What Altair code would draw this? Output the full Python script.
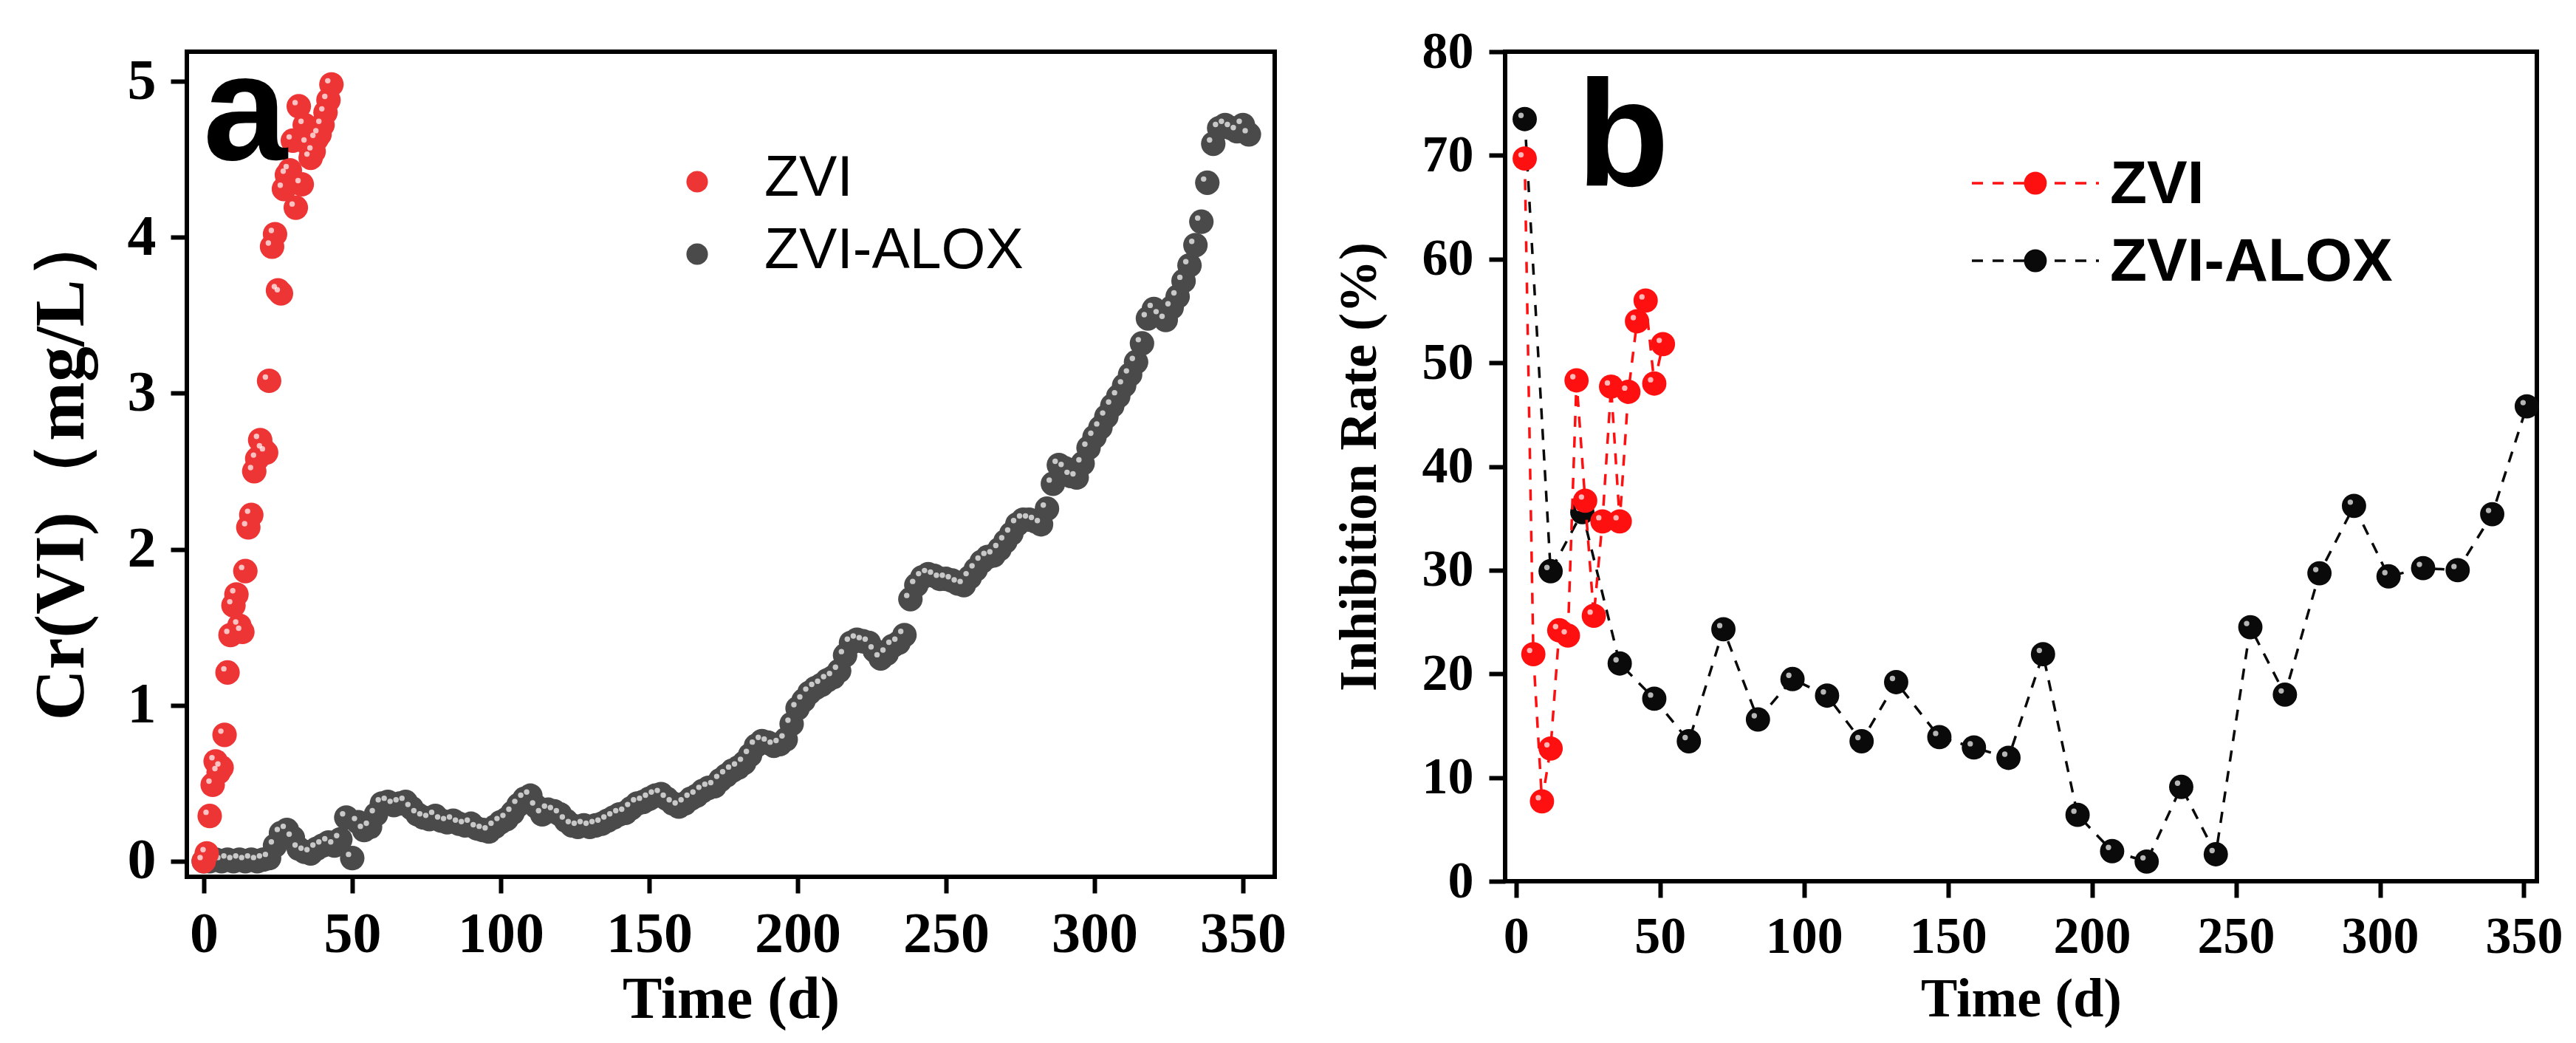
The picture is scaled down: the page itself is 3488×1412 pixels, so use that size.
import altair as alt
import pandas as pd

# ---- panel a: effluent Cr(VI), mg/L ----
# ZVI sampled daily, day 0..43
zvi_day = list(range(0, 44))
zvi_cr = [0.00, 0.05, 0.29, 0.49, 0.64, 0.57, 0.60, 0.81, 1.21, 1.45,
          1.64, 1.71, 1.51, 1.47, 1.86, 2.14, 2.22, 2.50, 2.58, 2.70,
          2.64, 2.62, 3.08, 3.94, 4.02, 3.66, 3.64, 4.31, 4.40, 4.43,
          4.62, 4.19, 4.84, 4.34, 4.72, 4.60, 4.51, 4.55, 4.63, 4.66,
          4.72, 4.80, 4.88, 4.98]

alox_day = list(range(0, 353, 2))
alox_cr = [0.00, 0.00, 0.01, 0.00, 0.01, 0.00, 0.01, 0.00, 0.01, 0.00,
           0.01, 0.02, 0.10, 0.18, 0.20, 0.15, 0.08, 0.06, 0.05, 0.08,
           0.10, 0.12, 0.10, 0.14, 0.28, 0.02, 0.25, 0.20, 0.22, 0.30,
           0.37, 0.38, 0.36, 0.37, 0.38, 0.34, 0.30, 0.28, 0.27, 0.29,
           0.26, 0.25, 0.26, 0.24, 0.23, 0.24, 0.21, 0.20, 0.19, 0.22,
           0.25, 0.27, 0.31, 0.36, 0.40, 0.42, 0.35, 0.30, 0.33, 0.32,
           0.30, 0.26, 0.23, 0.22, 0.23, 0.22, 0.23, 0.24, 0.26, 0.28,
           0.30, 0.31, 0.34, 0.37, 0.38, 0.40, 0.42, 0.43, 0.40, 0.37,
           0.35, 0.37, 0.40, 0.42, 0.45, 0.47, 0.48, 0.52, 0.55, 0.58,
           0.60, 0.63, 0.68, 0.74, 0.77, 0.76, 0.74, 0.75, 0.78, 0.88,
           0.98, 1.03, 1.08, 1.11, 1.13, 1.16, 1.18, 1.22, 1.32, 1.40,
           1.42, 1.41, 1.40, 1.35, 1.30, 1.33, 1.38, 1.40, 1.45, 1.68,
           1.77, 1.82, 1.84, 1.83, 1.81, 1.81, 1.80, 1.78, 1.77, 1.82,
           1.87, 1.92, 1.95, 1.96, 2.00, 2.05, 2.10, 2.16, 2.19, 2.19,
           2.18, 2.16, 2.26, 2.42, 2.54, 2.52, 2.47, 2.46, 2.55, 2.65,
           2.72, 2.78, 2.85, 2.92, 2.98, 3.05, 3.12, 3.20, 3.32, 3.48,
           3.54, 3.50, 3.47, 3.55, 3.62, 3.72, 3.82, 3.95, 4.10, 4.35,
           4.60, 4.70, 4.72, 4.70, 4.68, 4.72, 4.66]

# ---- panel b: inhibition rate, % ----
zvi_b_day = [3, 6, 9, 12, 15, 18, 21, 24, 27, 30, 33, 36, 39, 42, 45, 48, 51]
zvi_b_rate = [69.7, 21.9, 7.7, 12.8, 24.2, 23.7, 48.3, 36.7, 25.6, 34.7,
              47.7, 34.7, 47.2, 54.0, 56.0, 48.0, 51.8]
alox_b_day = [3, 12, 23, 36, 48, 60, 72, 84, 96, 108, 120, 132, 147, 159, 171,
              183, 195, 207, 219, 231, 243, 255, 267, 279, 291, 303, 315, 327, 339, 351]
alox_b_rate = [73.5, 29.9, 35.6, 21.0, 17.6, 13.5, 24.3, 15.6, 19.5, 17.9,
               13.5, 19.2, 13.9, 12.9, 11.9, 21.9, 6.4, 2.9, 1.9, 9.1,
               2.6, 24.5, 18.0, 29.7, 36.2, 29.4, 30.2, 30.0, 35.4, 45.8]

series = ["ZVI", "ZVI-ALOX"]
time_ticks = [0, 50, 100, 150, 200, 250, 300, 350]

RED_A, GREY_A = "#ee3535", "#4a4a4a"
RED_B, BLACK_B = "#ff1010", "#0a0a0a"
SERIF = "Liberation Serif"
SANS = "Liberation Sans"


def spheres(df, x, y, color, size):
    # filled dot plus a small light speck to mimic the shaded ball markers
    body = alt.Chart(df).mark_circle(size=size, color=color, opacity=1).encode(x=x, y=y)
    shine = alt.Chart(df).mark_circle(size=size * 0.05, color="white", opacity=0.7,
                                      xOffset=-5, yOffset=-5).encode(x=x, y=y)
    return body + shine


one = pd.DataFrame({"k": [0]})

# ---------- panel a ----------
Wa, Ha = 1473, 1117
xa = alt.X("day:Q", scale=alt.Scale(domain=[-5.7, 360.7], nice=False, zero=False),
           axis=alt.Axis(values=time_ticks, title="Time (d)", labelFontSize=78, titleFontSize=80,
                         labelPadding=17, titlePadding=10, labelFlush=False))
ya = alt.Y("val:Q", scale=alt.Scale(domain=[-0.1, 5.19], nice=False, zero=False),
           axis=alt.Axis(values=[0, 1, 2, 3, 4, 5], title="Cr(VI)（mg/L）", labelFontSize=78,
                         titleFontSize=96, labelPadding=20, titlePadding=40, labelFlush=False))

df_alox = pd.DataFrame({"day": alox_day, "val": alox_cr})
df_zvi = pd.DataFrame({"day": zvi_day, "val": zvi_cr})

layers_a = [spheres(df_alox, xa, ya, GREY_A, 1100), spheres(df_zvi, xa, ya, RED_A, 1100)]
layers_a.append(alt.Chart(one).mark_text(text="a", font=SANS, fontWeight="bold", fontSize=205,
                                         align="left", baseline="alphabetic", color="black")
                .encode(x=alt.value(22), y=alt.value(146)))
for lab, col, ly in zip(series, [RED_A, GREY_A], [176, 274]):
    layers_a.append(alt.Chart(one).mark_circle(size=850, color=col, opacity=1)
                    .encode(x=alt.value(691), y=alt.value(ly)))
    layers_a.append(alt.Chart(one).mark_text(text=lab, font=SANS, fontSize=77, align="left",
                                             baseline="middle", color="black")
                    .encode(x=alt.value(782), y=alt.value(ly - 4)))
panel_a = alt.layer(*layers_a).properties(width=Wa, height=Ha)

# ---------- panel b ----------
Wb, Hb = 1397, 1123
xb = alt.X("day:Q", scale=alt.Scale(domain=[-3.8, 354.5], nice=False, zero=False),
           axis=alt.Axis(values=time_ticks, title="Time (d)", labelFontSize=70, titleFontSize=74,
                         labelPadding=19, titlePadding=14, labelFlush=False))
yb = alt.Y("val:Q", scale=alt.Scale(domain=[0, 80], nice=False, zero=False),
           axis=alt.Axis(values=list(range(0, 81, 10)), title="Inhibition Rate (%)", labelFontSize=70,
                         titleFontSize=72, labelPadding=21, titlePadding=48, labelFlush=False))

df_b_alox = pd.DataFrame({"day": alox_b_day, "val": alox_b_rate})
df_b_zvi = pd.DataFrame({"day": zvi_b_day, "val": zvi_b_rate})

dash = [15, 13]
layers_b = []
for df, col in [(df_b_alox, BLACK_B), (df_b_zvi, RED_B)]:
    layers_b.append(alt.Chart(df).mark_line(color=col, strokeWidth=3.5, strokeDash=dash)
                    .encode(x=xb, y=yb))
    layers_b.append(spheres(df, xb, yb, col, 1080))
layers_b.append(alt.Chart(one).mark_text(text="b", font=SANS, fontWeight="bold", fontSize=205,
                                         align="left", baseline="alphabetic", color="black")
                .encode(x=alt.value(97), y=alt.value(181)))
for lab, col, ly in zip(series, [RED_B, BLACK_B], [178, 283]):
    layers_b.append(alt.Chart(one).mark_rule(color=col, strokeWidth=3.5, strokeDash=dash)
                    .encode(x=alt.value(632), x2=alt.value(804), y=alt.value(ly)))
    layers_b.append(alt.Chart(one).mark_circle(size=950, color=col, opacity=1)
                    .encode(x=alt.value(718), y=alt.value(ly)))
    layers_b.append(alt.Chart(one).mark_text(text=lab, font=SANS, fontWeight="bold", fontSize=82,
                                             align="left", baseline="middle", color="black")
                    .encode(x=alt.value(819), y=alt.value(ly + 2)))
panel_b = alt.layer(*layers_b).properties(width=Wb, height=Hb)

chart = alt.hconcat(panel_a, panel_b, spacing=312, bounds="flush").properties(
    padding={"left": 24, "top": 24, "right": 5, "bottom": 5}
).configure_view(
    stroke="black", strokeWidth=6
).configure_axis(
    domain=False, grid=False, tickColor="black", tickWidth=6, tickSize=22,
    labelFont=SERIF, labelFontWeight="bold", labelColor="black",
    titleFont=SERIF, titleFontWeight="bold", titleColor="black"
)

chart.save("out.html", embed_options={"renderer": "svg", "actions": False})
